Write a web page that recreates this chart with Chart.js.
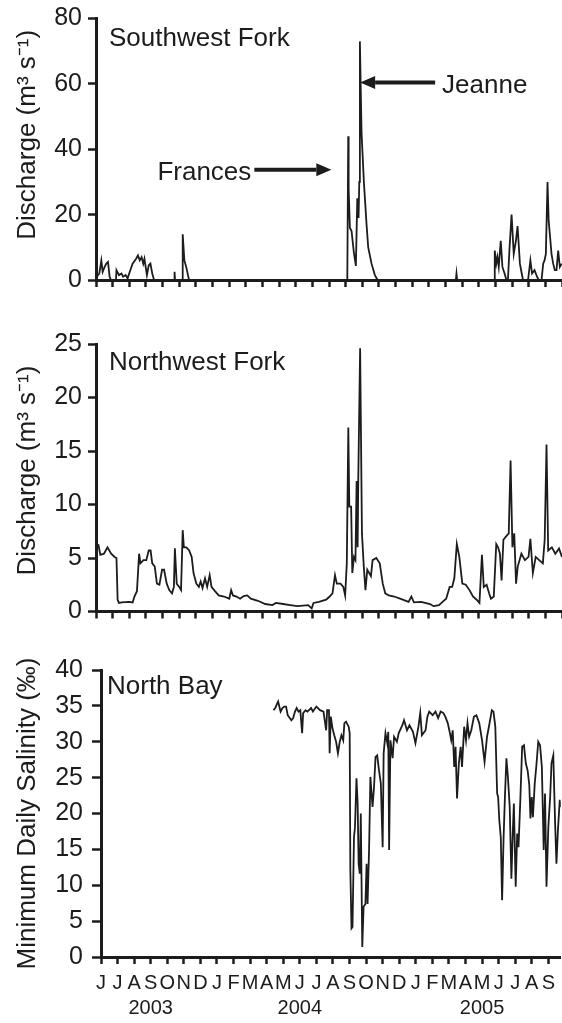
<!DOCTYPE html>
<html>
<head>
<meta charset="utf-8">
<script src="https://cdn.jsdelivr.net/npm/chart.js@4.4.1/dist/chart.umd.min.js"></script>
<style>
  html, body { margin: 0; padding: 0; background: #fff; }
  #wrap { position: relative; width: 562px; height: 1023px; overflow: hidden; }
  canvas { position: absolute; left: 0; }
</style>
</head>
<body>
<div id="wrap">
  <canvas id="sw" width="562" height="300" style="top:0px"></canvas>
  <canvas id="nw" width="562" height="330" style="top:300px"></canvas>
  <canvas id="nb" width="562" height="393" style="top:630px"></canvas>
</div>
<script>
// x values are months since 1 June 2003
const monthLetters = ["J","J","A","S","O","N","D","J","F","M","A","M","J","J","A","S","O","N","D","J","F","M","A","M","J","J","A","S"];
const yearTickIndex = [3, 12, 23];
const yearText = ["2003", "2004", "2005"];

// Southwest Fork discharge (m3/s)
const swMonth = [0,0.05,0.2,0.32,0.4,0.52,0.62,0.72,0.82,0.9,
  1.2,1.23,1.38,1.53,1.63,1.78,1.9,2.03,2.2,2.41,
  2.52,2.63,2.74,2.84,2.91,3.06,3.17,3.27,3.38,3.49,
  4.69,4.72,4.75,5.17,5.21,5.31,5.42,5.59,15.1,15.155,
  15.18,15.255,15.355,15.495,15.615,15.7,15.775,15.82,15.856,15.956,
  16.096,16.256,16.356,16.556,16.757,16.917,21.62,21.66,21.7,23.93,
  23.96,24.05,24.12,24.2,24.32,24.42,24.55,24.66,24.75,24.85,
  24.97,25.1,25.23,25.33,25.47,25.58,25.66,25.96,26.1,26.2,
  26.35,26.5,26.6,26.77,26.87,26.95,27.03,27.13,27.2,27.27,
  27.37,27.47,27.57,27.67,27.77,27.87,27.99];
const swFlow = [3,1,2,6,2.5,4,5,5.5,1,0,
  0,3,1.5,2,1,1.5,0.5,2.5,5,6.5,
  7.5,6,7,5,6.5,1.5,4.5,5,2,0,
  0,2.5,0,0,14,6,4,0,0,44,
  28,16,15,8.4,4.3,25,19,30,73,45,
  30,17,10,5,1.5,0,0,2,0,0,
  9,5,7,4,12,4,2,0,0,10,
  20,8,12,16.5,5,2,0,0,6,2,
  3,1,0,0,5,6,8,30,18,14,
  8,5,3,3,9,4,5];

// Northwest Fork discharge (m3/s)
const nwMonth = [0,0.05,0.15,0.26,0.48,0.69,0.91,1.12,1.23,1.3,
  1.38,1.55,1.98,2.2,2.31,2.46,2.59,2.67,2.85,3.02,
  3.17,3.28,3.38,3.53,3.66,3.81,3.97,4.09,4.25,4.4,
  4.57,4.68,4.74,4.85,5.0,5.11,5.21,5.28,5.43,5.6,
  5.75,5.86,6.03,6.18,6.29,6.4,6.55,6.68,6.83,6.94,
  7.15,7.37,7.69,8.01,8.12,8.23,8.44,8.66,8.87,9.09,
  9.3,9.73,10.17,10.6,10.81,11.24,11.67,12.1,12.75,12.96,
  13.07,13.39,13.83,14.04,14.21,14.36,14.47,14.69,14.86,14.97,
  15.07,15.16,15.22,15.33,15.4,15.5,15.59,15.66,15.72,15.76,
  15.87,15.98,16.09,16.19,16.3,16.52,16.62,16.84,17.05,17.23,
  17.38,17.59,17.92,18.35,18.78,18.95,19.1,19.53,20.07,20.28,
  20.61,20.82,21.04,21.25,21.4,21.53,21.68,21.83,22.01,22.22,
  22.44,22.65,22.87,23.04,23.19,23.3,23.47,23.62,23.73,23.9,
  24.05,24.16,24.27,24.37,24.48,24.63,24.8,24.91,25.02,25.13,
  25.24,25.34,25.56,25.77,25.99,26.1,26.25,26.42,26.63,26.85,
  26.96,27.07,27.17,27.39,27.6,27.82,28.0];
const nwFlow = [6.5,6.3,6.2,5.3,5.4,6.0,5.4,5.1,5.0,1.1,
  0.8,0.85,0.9,0.85,1.4,1.9,5.4,4.5,4.8,4.8,
  5.7,5.7,4.5,4.2,2.6,2.5,3.9,3.9,2.6,2.0,
  1.7,2.3,5.9,2.6,2.3,2.0,7.6,6.0,6.0,5.7,
  5.1,3.6,2.6,2.3,2.8,2.2,3.1,2.3,3.4,2.3,
  1.9,1.5,1.4,1.2,2.0,1.5,1.4,1.2,1.45,1.5,
  1.2,1.0,0.7,0.6,0.8,0.7,0.6,0.5,0.6,0.3,
  0.8,0.9,1.1,1.4,1.7,3.4,2.6,2.6,2.3,1.5,
  4.5,17.2,9.8,9.8,3.6,5.1,4.8,12.2,6.0,12.5,
  24.6,7.3,4.2,2.0,3.9,3.3,4.8,5.0,4.5,2.6,
  1.7,1.5,1.4,1.15,0.9,1.4,0.85,0.9,0.7,0.5,
  0.6,0.9,1.2,2.3,2.3,3.1,6.3,5.1,2.6,2.5,
  2.0,1.4,1.1,0.8,5.3,2.3,2.5,1.7,1.2,1.4,
  6.3,6.0,5.4,2.9,6.7,7.0,7.3,14.1,6.0,7.3,
  2.6,4.2,5.4,4.8,5.1,6.8,3.6,5.1,4.8,4.5,
  6.7,15.6,5.7,6.0,5.4,5.9,5.1];

// North Bay minimum daily salinity (ppt)
const nbMonth = [10.41,10.52,10.63,10.69,10.84,10.95,11.06,11.17,11.27,11.49,
  11.60,11.71,11.81,11.92,12.03,12.14,12.20,12.35,12.46,12.68,
  12.79,13.00,13.22,13.43,13.59,13.65,13.76,13.80,13.87,13.97,
  14.08,14.19,14.30,14.41,14.51,14.62,14.69,14.79,14.95,15.01,
  15.05,15.12,15.18,15.27,15.33,15.42,15.49,15.55,15.62,15.68,
  15.77,15.85,15.96,16.03,16.09,16.18,16.26,16.39,16.48,16.57,
  16.67,16.78,16.89,17.00,17.06,17.17,17.28,17.34,17.39,17.47,
  17.60,17.69,17.86,17.97,18.19,18.29,18.47,18.62,18.83,18.98,
  19.16,19.27,19.37,19.59,19.70,19.81,20.02,20.19,20.35,20.50,
  20.67,20.78,20.93,21.06,21.14,21.23,21.32,21.40,21.49,21.60,
  21.71,21.79,21.92,22.03,22.12,22.22,22.35,22.51,22.66,22.83,
  23.00,23.15,23.30,23.43,23.59,23.69,23.80,23.91,23.97,24.04,
  24.13,24.21,24.30,24.38,24.47,24.56,24.67,24.77,24.86,24.92,
  25.03,25.12,25.20,25.31,25.42,25.53,25.64,25.75,25.85,25.92,
  26.00,26.07,26.18,26.29,26.39,26.50,26.61,26.72,26.80,26.89,
  27.00,27.11,27.19,27.30,27.41,27.49,27.58,27.69,27.75];
const nbSalinity = [34.4,34.7,35.3,35.6,34.2,34.7,34.9,34.9,33.7,33.0,
  33.3,34.2,34.7,34.2,34.4,31.2,34.0,34.4,34.2,34.7,
  34.2,34.9,34.4,34.2,31.6,34.4,34.4,28.4,33.5,31.9,
  30.9,30.0,28.4,30.0,30.9,30.2,32.6,32.8,32.1,31.2,
  12.1,4.0,4.2,16.7,18.1,24.9,21.4,13.0,11.6,20.0,
  1.4,7.0,7.4,13.0,7.4,14.9,25.1,20.9,23.7,27.9,
  28.1,26.0,24.2,15.3,28.4,31.2,29.8,31.4,14.9,30.2,
  27.7,30.7,30.0,31.2,32.3,33.0,31.6,32.3,31.4,29.8,
  32.1,34.0,30.9,31.6,33.5,34.2,33.7,34.2,33.3,34.2,
  34.0,33.5,32.6,31.2,30.2,31.6,26.5,29.3,22.1,27.0,
  29.3,26.5,32.1,30.2,32.6,30.7,31.6,33.5,33.7,32.6,
  30.2,27.2,30.7,32.3,34.4,34.2,32.1,22.8,22.3,19.1,
  16.7,7.9,16.7,22.3,27.7,25.1,20.9,10.9,17.7,21.4,
  9.8,17.2,15.3,21.9,29.3,29.5,27.0,26.0,24.0,19.3,
  22.3,19.5,24.2,27.0,30.0,29.5,26.5,14.9,22.8,9.8,
  18.1,22.3,27.0,28.1,18.6,13.0,17.7,21.9,20.9];

const FONT = '"Liberation Sans", Arial, Helvetica, sans-serif';
const INK = '#1c1c1c';

function drawArrow(ctx, tailX, tipX, y) {
  const dir = Math.sign(tipX - tailX);
  const head = 15;
  ctx.lineWidth = 4;
  ctx.beginPath();
  ctx.moveTo(tailX, y);
  ctx.lineTo(tipX - dir * head, y);
  ctx.stroke();
  ctx.beginPath();
  ctx.moveTo(tipX, y);
  ctx.lineTo(tipX - dir * head, y - 6.5);
  ctx.lineTo(tipX - dir * head, y + 6.5);
  ctx.closePath();
  ctx.fill();
}

// panel name + storm arrows
const panelText = {
  id: 'panelText',
  afterDraw(chart, args, opts) {
    const { ctx, chartArea, scales } = chart;
    ctx.save();
    ctx.fillStyle = INK;
    ctx.strokeStyle = INK;
    ctx.font = '26px ' + FONT;
    ctx.textBaseline = 'alphabetic';
    ctx.textAlign = 'left';
    ctx.fillText(opts.name, chartArea.left + opts.nameDx, chartArea.top + opts.nameDy);
    (opts.arrows || []).forEach(a => {
      const tipX = scales.x.getPixelForValue(a.x);
      const y = scales.y.getPixelForValue(a.y);
      const tailX = tipX + a.len;
      drawArrow(ctx, tailX, tipX, y);
      ctx.textAlign = a.len < 0 ? 'right' : 'left';
      ctx.fillText(a.label, tailX + (a.len < 0 ? -3 : 7), y + 10);
    });
    ctx.restore();
  }
};

function xAxis(max, height, withLabels) {
  return {
    type: 'linear',
    min: 0,
    max: max,
    border: { color: INK, width: 3 },
    grid: { drawOnChartArea: false, color: INK, tickColor: INK, tickLength: 7, tickWidth: 2.5 },
    ticks: {
      display: withLabels,
      stepSize: 1,
      includeBounds: false,
      autoSkip: false,
      maxRotation: 0,
      minRotation: 0,
      padding: 7,
      color: INK,
      font: { family: FONT, size: 20, lineHeight: 1.25 },
      callback: (v) => {
        if (!Number.isInteger(v) || v >= monthLetters.length) return '';
        const k = yearTickIndex.indexOf(v);
        return k >= 0 ? [monthLetters[v], yearText[k]] : monthLetters[v];
      }
    },
    afterFit: (s) => { s.height = height; }
  };
}

function yAxis(max, step, title, width, tickLen, pad) {
  return {
    min: 0,
    max: max,
    border: { color: INK, width: 3 },
    grid: { drawOnChartArea: false, color: INK, tickColor: INK, tickLength: tickLen, tickWidth: 2.5 },
    ticks: { stepSize: step, padding: pad, color: INK, font: { family: FONT, size: 25, lineHeight: 1 } },
    title: { display: true, text: title, color: INK, font: { family: FONT, size: 26 }, padding: { top: 12, bottom: 0 } },
    afterFit: (s) => { s.width = width; }
  };
}

function makePanel(id, months, values, cfg) {
  return new Chart(document.getElementById(id), {
    type: 'line',
    data: {
      datasets: [{
        data: months.map((m, i) => ({ x: m, y: values[i] })),
        borderColor: INK,
        borderWidth: 1.8,
        pointRadius: 0,
        tension: 0,
        fill: false
      }]
    },
    options: {
      responsive: false,
      animation: false,
      devicePixelRatio: 1,
      layout: { padding: { top: cfg.top, left: 0, right: 0, bottom: 0 } },
      plugins: {
        legend: { display: false },
        tooltip: { enabled: false },
        panelText: cfg.text
      },
      scales: {
        x: xAxis(cfg.xMax, cfg.xHeight, cfg.labels),
        y: yAxis(cfg.yMax, cfg.yStep, cfg.title, cfg.yWidth, cfg.tickLen, cfg.pad)
      }
    },
    plugins: [panelText]
  });
}

makePanel('sw', swMonth, swFlow, {
  top: 14, xHeight: 20, xMax: 28, labels: false,
  yMax: 80, yStep: 20, yWidth: 96, tickLen: 8, pad: 6,
  title: '    Discharge (m³ s⁻¹)',
  text: {
    name: 'Southwest Fork', nameDx: 13, nameDy: 27,
    arrows: [
      { x: 14.14, y: 33.7, len: -77, label: 'Frances' },
      { x: 15.87, y: 60.4, len: 75, label: 'Jeanne' }
    ]
  }
});

makePanel('nw', nwMonth, nwFlow, {
  top: 44, xHeight: 18, xMax: 28, labels: false,
  yMax: 25, yStep: 5, yWidth: 96, tickLen: 8, pad: 6,
  title: '  Discharge (m³ s⁻¹)',
  text: { name: 'Northwest Fork', nameDx: 13, nameDy: 26 }
});

makePanel('nb', nbMonth, nbSalinity, {
  top: 40, xHeight: 66, xMax: 27.75, labels: true,
  yMax: 40, yStep: 5, yWidth: 101, tickLen: 9, pad: 9,
  title: 'Minimum Daily Salinity (‰)',
  text: { name: 'North Bay', nameDx: 6, nameDy: 24 }
});
</script>
</body>
</html>
